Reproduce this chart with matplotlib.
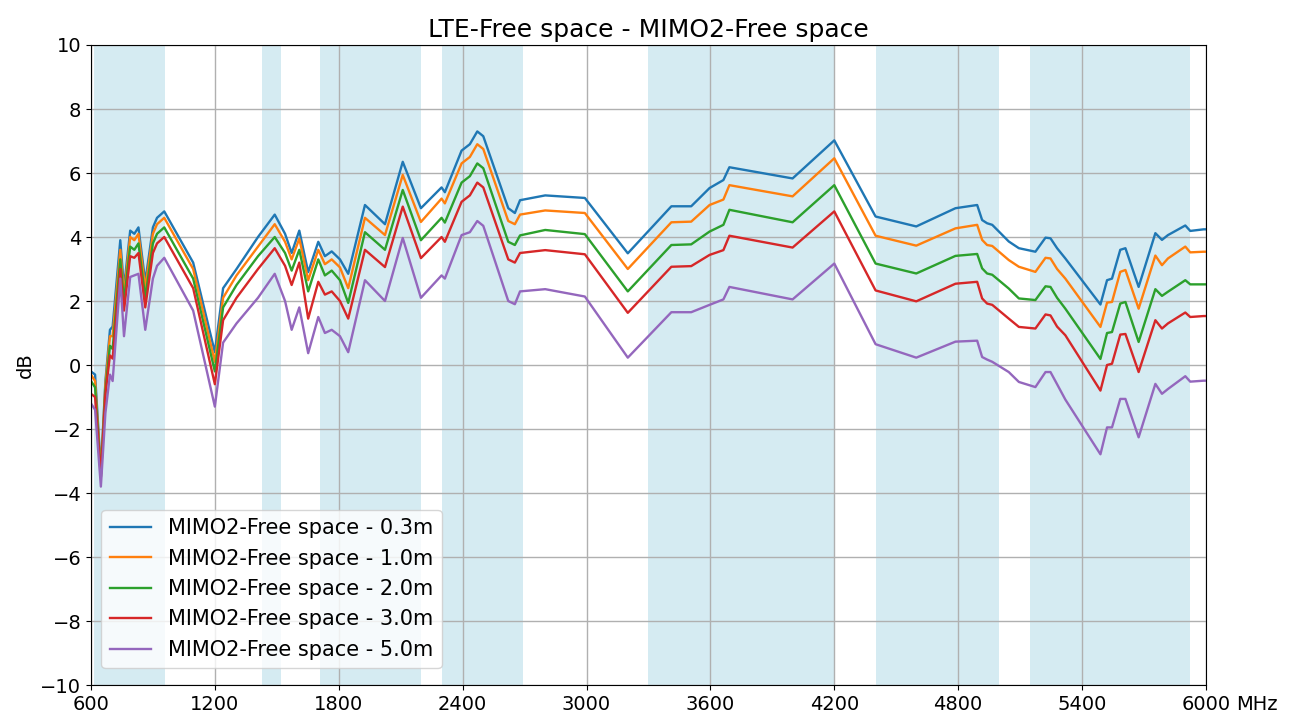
import numpy as np
import matplotlib
matplotlib.use("Agg")
import matplotlib.pyplot as plt

# frequency points (MHz)
freq = [600, 620, 648, 670, 692, 705,
        742, 760, 790, 810, 830,
        863, 900, 920, 955, 1095,
        1200, 1240, 1305, 1409, 1490,
        1540, 1572, 1609, 1652, 1701,
        1733, 1766, 1806, 1846, 1927,
        2024, 2110, 2198, 2298, 2314,
        2395, 2435, 2471, 2500, 2621,
        2653, 2678, 2800, 2992, 3200,
        3411, 3507, 3596, 3663, 3692,
        3998, 4200, 4400, 4597, 4787,
        4892, 4916, 4940, 4965, 5045,
        5094, 5174, 5223, 5247, 5279,
        5319, 5489, 5521, 5545, 5585,
        5610, 5674, 5755, 5787, 5816,
        5900, 5924, 5989, 6000]

d_03 = [-0.2, -0.3, -3.3, -0.5, 1.1, 1.2,
        3.9, 2.4, 4.2, 4.1, 4.3,
        2.6, 4.3, 4.6, 4.8, 3.2,
        0.4, 2.4, 3.0, 4.0, 4.7,
        4.1, 3.5, 4.2, 2.9, 3.85,
        3.4, 3.55, 3.3, 2.85, 5.0,
        4.4, 6.35, 4.9, 5.55, 5.4,
        6.7, 6.9, 7.3, 7.15, 4.9,
        4.75, 5.15, 5.3, 5.22, 3.49,
        4.96, 4.96, 5.53, 5.78, 6.18,
        5.83, 7.02, 4.64, 4.33, 4.9,
        5.0, 4.53, 4.43, 4.38, 3.86,
        3.65, 3.54, 3.98, 3.96, 3.65,
        3.33, 1.89, 2.65, 2.7, 3.6,
        3.65, 2.44, 4.12, 3.91, 4.06,
        4.36, 4.19, 4.24, 4.24]

d_10 = [-0.3, -0.5, -3.4, -0.6, 0.9, 0.9,
        3.6, 2.2, 4.0, 3.9, 4.1,
        2.4, 4.1, 4.4, 4.6, 3.0,
        0.1, 2.1, 2.8, 3.7, 4.4,
        3.85, 3.3, 3.95, 2.65, 3.6,
        3.15, 3.3, 3.05, 2.4, 4.6,
        4.06, 5.94, 4.47, 5.2, 5.05,
        6.3, 6.5, 6.9, 6.75, 4.5,
        4.4, 4.7, 4.83, 4.75, 3.0,
        4.46, 4.48, 5.0, 5.17, 5.62,
        5.27, 6.46, 4.04, 3.73, 4.27,
        4.38, 3.91, 3.75, 3.72, 3.28,
        3.07, 2.91, 3.35, 3.33, 3.0,
        2.7, 1.19, 1.95, 1.97, 2.91,
        2.97, 1.76, 3.42, 3.12, 3.33,
        3.7, 3.52, 3.54, 3.54]

d_20 = [-0.5, -0.7, -3.5, -0.8, 0.6, 0.5,
        3.3, 2.0, 3.7, 3.6, 3.8,
        2.1, 3.8, 4.1, 4.3, 2.7,
        -0.2, 1.8, 2.5, 3.4, 4.0,
        3.5, 2.95, 3.6, 2.3, 3.3,
        2.8, 2.95, 2.65, 1.94, 4.15,
        3.6, 5.47, 3.9, 4.6, 4.45,
        5.7, 5.9, 6.3, 6.15, 3.85,
        3.75, 4.05, 4.22, 4.09, 2.3,
        3.75, 3.77, 4.17, 4.38, 4.85,
        4.46, 5.62, 3.17, 2.86, 3.41,
        3.47, 3.02, 2.86, 2.82, 2.39,
        2.08, 2.03, 2.46, 2.44, 2.1,
        1.76, 0.19, 1.0, 1.03, 1.92,
        1.97, 0.72, 2.37, 2.16, 2.29,
        2.65, 2.52, 2.52, 2.52]

d_30 = [-0.9, -1.0, -3.5, -0.9, 0.3, 0.2,
        3.0, 1.7, 3.4, 3.35, 3.5,
        1.8, 3.5, 3.8, 4.0, 2.4,
        -0.6, 1.4, 2.1, 3.0, 3.65,
        3.1, 2.5, 3.2, 1.45, 2.6,
        2.2, 2.3, 2.0, 1.45, 3.6,
        3.06, 4.95, 3.34, 4.0, 3.85,
        5.1, 5.3, 5.7, 5.55, 3.3,
        3.2, 3.5, 3.59, 3.46, 1.63,
        3.07, 3.09, 3.44, 3.59, 4.04,
        3.67, 4.8, 2.33, 1.99, 2.54,
        2.6, 2.08, 1.92, 1.88, 1.45,
        1.19, 1.14, 1.58, 1.55, 1.2,
        0.93, -0.8, 0.0, 0.04, 0.95,
        0.97, -0.22, 1.4, 1.14, 1.3,
        1.64, 1.5, 1.53, 1.53]

d_50 = [-1.2, -1.4, -3.8, -1.5, -0.3, -0.5,
        2.7, 0.9, 2.75, 2.8, 2.85,
        1.1, 2.7, 3.1, 3.35, 1.7,
        -1.3, 0.7, 1.3, 2.1, 2.85,
        2.0, 1.1, 1.8, 0.37, 1.5,
        1.0, 1.1, 0.9, 0.4, 2.65,
        2.0, 3.97, 2.1, 2.8, 2.7,
        4.06, 4.15, 4.5, 4.35, 2.0,
        1.9, 2.3, 2.37, 2.14, 0.23,
        1.65, 1.65, 1.88, 2.05, 2.44,
        2.05, 3.17, 0.65, 0.23, 0.73,
        0.76, 0.25, 0.17, 0.1, -0.22,
        -0.53, -0.69, -0.22, -0.22, -0.6,
        -1.08, -2.79, -1.95, -1.95, -1.06,
        -1.06, -2.26, -0.59, -0.9, -0.75,
        -0.35, -0.52, -0.49, -0.49]

series = [d_03, d_10, d_20, d_30, d_50]
labels = ["MIMO2-Free space - 0.3m", "MIMO2-Free space - 1.0m",
          "MIMO2-Free space - 2.0m", "MIMO2-Free space - 3.0m",
          "MIMO2-Free space - 5.0m"]

# LTE bands shaded in the background
bands = [(617, 960), (1427, 1518), (1710, 2200), (2300, 2690),
         (3300, 4200), (4400, 5000), (5150, 5925)]

xticks = np.arange(600, 6001, 600)
yticks = np.arange(-10, 11, 2)

fig = plt.figure(figsize=(13.05, 7.2), dpi=100)
ax = fig.add_axes([0.0697, 0.0486, 0.8544, 0.8889])

for lo, hi in bands:
    ax.axvspan(lo, hi, color="lightblue", alpha=0.5, lw=0)

for y, lab in zip(series, labels):
    ax.plot(freq, y, lw=1.7, label=lab)

ax.set_xlim(600, 6000)
ax.set_ylim(-10, 10)
ax.set_xticks(xticks)
ax.set_yticks(yticks)
ax.tick_params(labelsize=14)
ax.grid(True, color="#b0b0b0", lw=1.0)
ax.set_ylabel("dB", fontsize=14)
ax.set_title("LTE-Free space - MIMO2-Free space", fontsize=18)
ax.annotate("MHz", xy=(1, 0), xycoords="axes fraction", xytext=(22, -7),
            textcoords="offset points", ha="left", va="top", fontsize=14)
ax.legend(loc="lower left", bbox_to_anchor=(0, 0.01), fontsize=15)

fig.savefig("out.png", dpi=100)
